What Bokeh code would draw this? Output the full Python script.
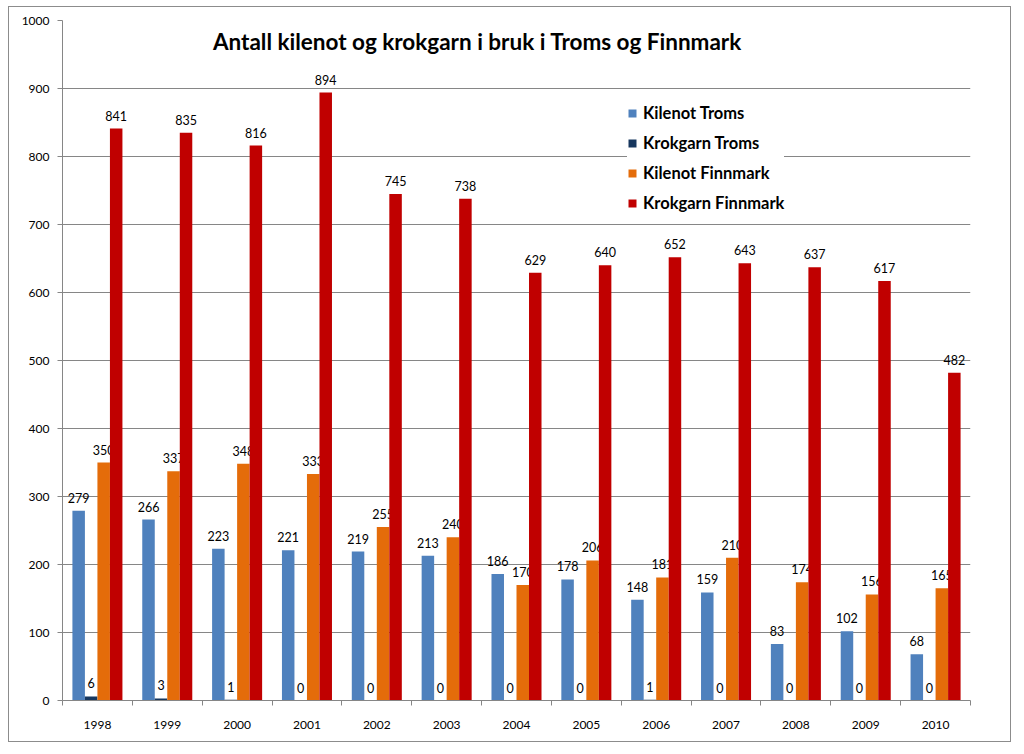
from bokeh.plotting import figure
from bokeh.models import ColumnDataSource, FixedTicker, Range1d, Label, Legend
from bokeh.transform import dodge
from bokeh.core.properties import value
from bokeh.embed import file_html
from bokeh.resources import INLINE

years = ["1998", "1999", "2000", "2001", "2002", "2003", "2004", "2005", "2006", "2007", "2008", "2009", "2010"]
kilenot_troms = [279, 266, 223, 221, 219, 213, 186, 178, 148, 159, 83, 102, 68]
krokgarn_troms = [6, 3, 1, 0, 0, 0, 0, 0, 1, 0, 0, 0, 0]
kilenot_finnmark = [350, 337, 348, 333, 255, 240, 170, 206, 181, 210, 174, 156, 165]
krokgarn_finnmark = [841, 835, 816, 894, 745, 738, 629, 640, 652, 643, 637, 617, 482]
y_ticks = [0, 100, 200, 300, 400, 500, 600, 700, 800, 900, 1000]

series = [
    ("Kilenot Troms", kilenot_troms, "#4F81BD", -0.2686),
    ("Krokgarn Troms", krokgarn_troms, "#17375E", -0.0895),
    ("Kilenot Finnmark", kilenot_finnmark, "#E46C0A", 0.0895),
    ("Krokgarn Finnmark", krokgarn_finnmark, "#C00000", 0.2686),
]

centers = [i + 0.5 for i in range(len(years))]

p = figure(width=1003, height=736, output_backend="svg", toolbar_location=None,
           x_range=Range1d(0, len(years)), y_range=Range1d(0, 1000),
           min_border_left=53, min_border_right=42, min_border_top=13, min_border_bottom=43)
p.styles = {"border": "1px solid #8c8c8c", "margin-left": "8px", "margin-top": "6px"}
p.outline_line_color = None
p.background_fill_color = "white"
p.border_fill_color = "white"

legend_items = []
for name, vals, color, off in series:
    src = ColumnDataSource(dict(x=centers, y=vals, t=[str(v) for v in vals]))
    r = p.vbar(x=dodge("x", off), top="y", bottom=0, width=0.179, source=src,
               fill_color=color, line_color=None)
    p.text(x=dodge("x", off), y="y", text="t", source=src, text_align="center",
           text_baseline="bottom", y_offset=-8, text_font=value("Lato"),
           text_font_size="12.5px", text_color="#000000")
    legend_items.append((name, [r]))

legend = Legend(items=legend_items, location=(565, 487), orientation="vertical",
                label_text_font="Lato", label_text_font_style="bold",
                label_text_font_size="16.5px", label_text_color="#000000",
                glyph_width=10, glyph_height=10, label_height=20, spacing=10,
                padding=7, margin=0, label_standoff=6,
                border_line_color=None, background_fill_color="white",
                background_fill_alpha=1.0)
p.add_layout(legend, "center")

title = Label(x=5.98, y=969, text="Antall kilenot og krokgarn i bruk i  Troms og Finnmark",
              text_font="Lato", text_font_style="bold", text_font_size="22.5px",
              text_align="center", text_baseline="middle", text_color="#000000")
p.add_layout(title)

# axes
p.xgrid.grid_line_color = None
p.ygrid.grid_line_color = "#868686"
p.ygrid.ticker = FixedTicker(ticks=y_ticks)

p.yaxis.ticker = FixedTicker(ticks=y_ticks)
p.yaxis.axis_line_color = "#868686"
p.yaxis.major_tick_line_color = "#868686"
p.yaxis.major_tick_out = 5
p.yaxis.major_tick_in = 0
p.yaxis.minor_tick_line_color = None
p.yaxis.major_label_text_font = "Lato"
p.yaxis.major_label_text_font_size = "12px"
p.yaxis.major_label_text_color = "#000000"
p.yaxis.major_label_standoff = 8

p.xaxis.ticker = FixedTicker(ticks=centers, minor_ticks=list(range(len(years) + 1)))
p.xaxis.major_label_overrides = {c: y for c, y in zip(centers, years)}
p.xaxis.axis_line_color = "#868686"
p.xaxis.major_tick_line_color = None
p.xaxis.major_tick_out = 0
p.xaxis.major_tick_in = 0
p.xaxis.minor_tick_line_color = "#868686"
p.xaxis.minor_tick_out = 5
p.xaxis.minor_tick_in = 0
p.xaxis.major_label_text_font = "Lato"
p.xaxis.major_label_text_font_size = "12px"
p.xaxis.major_label_text_color = "#000000"
p.xaxis.major_label_standoff = 15

open("out.html", "w").write(file_html(p, INLINE))
